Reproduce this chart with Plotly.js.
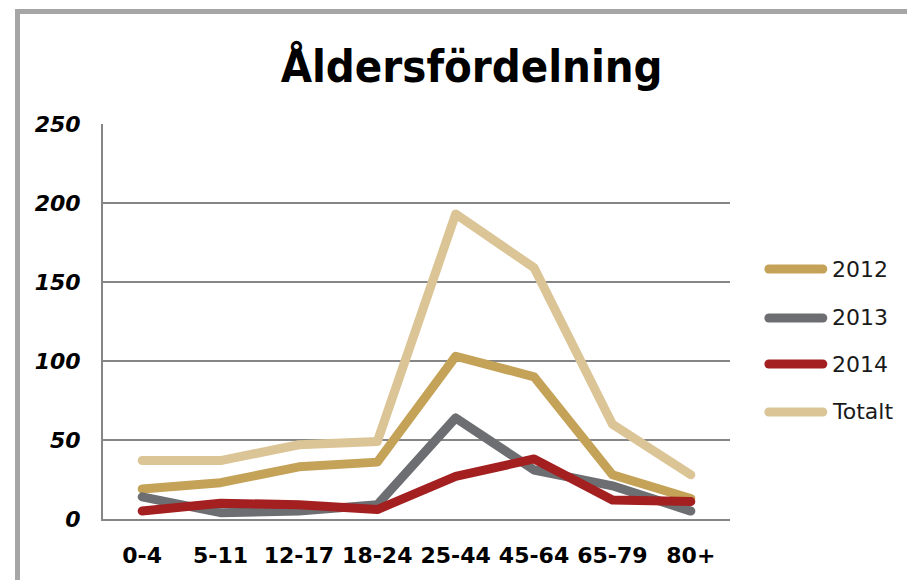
<!DOCTYPE html>
<html>
<head>
<meta charset="utf-8">
<script src="https://cdn.plot.ly/plotly-3.0.1.min.js"></script>
<style>
  html, body { margin: 0; padding: 0; background: #ffffff; }
  #wrap { position: relative; width: 907px; height: 580px; overflow: hidden; }
  #frame { position: absolute; left: 15px; top: 9px; width: 1000px; height: 1000px;
           border-top: 5px solid #a6a6a6; border-left: 5px solid #a6a6a6; }
  #chart { position: absolute; left: 0; top: 0; width: 907px; height: 580px; }
  .scatterlayer .js-line { stroke-linecap: round !important; stroke-linejoin: round !important; }
  .shapelayer path { stroke-linecap: round !important; }
</style>
</head>
<body>
<div id="wrap">
  <div id="frame"></div>
  <div id="chart"></div>
</div>
<script>
const categories = ["0-4", "5-11", "12-17", "18-24", "25-44", "45-64", "65-79", "80+"];
const seriesNames = ["2012", "2013", "2014", "Totalt"];
const values2012 = [19, 23, 33, 36, 103, 90, 28, 13];
const values2013 = [14, 4, 5, 9, 64, 31, 21, 5];
const values2014 = [5, 10, 9, 6, 27, 38, 12, 11];
const valuesTotalt = [37, 37, 47, 49, 193, 159, 60, 28];
const yTicks = [0, 50, 100, 150, 200, 250];

const seriesValues = [values2012, values2013, values2014, valuesTotalt];
const colors = ["#c4a257", "#6d6e71", "#a31f20", "#dbc597"];

const traces = seriesNames.map((name, i) => ({
  type: "scatter",
  mode: "lines",
  name: name,
  x: categories,
  y: seriesValues[i],
  line: { color: colors[i], width: 9 },
  hoverinfo: "x+y+name"
}));

// custom legend (long line samples like the original)
const legendY = [0.6329, 0.5089, 0.3924, 0.2709];
const shapes = seriesNames.map((name, i) => ({
  type: "line", xref: "paper", yref: "paper",
  x0: 1.062, x1: 1.148, y0: legendY[i], y1: legendY[i],
  line: { color: colors[i], width: 9 }
}));
const annotations = seriesNames.map((name, i) => ({
  xref: "paper", yref: "paper", x: 1.1595, y: legendY[i],
  xanchor: "left", yanchor: "middle", showarrow: false,
  text: name,
  font: { family: "DejaVu Sans, sans-serif", size: 22, color: "#1a1a1a" }
}));

const layout = {
  width: 907, height: 580,
  paper_bgcolor: "rgba(0,0,0,0)",
  plot_bgcolor: "rgba(0,0,0,0)",
  margin: { l: 103, r: 177, t: 124, b: 61, pad: 0 },
  showlegend: false,
  title: {
    text: "Åldersfördelning",
    x: 0.52, xref: "container", xanchor: "center",
    y: 0.886, yref: "container", yanchor: "middle",
    font: { family: "DejaVu Sans Condensed, DejaVu Sans, sans-serif", size: 45, weight: "bold", color: "#000000" }
  },
  xaxis: {
    type: "category",
    range: [-0.5, 7.5],
    showgrid: false,
    showline: true, linecolor: "#868686", linewidth: 2,
    ticks: "", ticklabelstandoff: 16,
    tickfont: { family: "DejaVu Sans, sans-serif", size: 22, weight: "bold", color: "#000000" },
    zeroline: false, fixedrange: true
  },
  yaxis: {
    range: [0, 250],
    tickvals: yTicks,
    ticktext: yTicks.map(String),
    showgrid: true, gridcolor: "#868686", gridwidth: 2,
    showline: true, linecolor: "#868686", linewidth: 2,
    zeroline: false,
    ticks: "", ticklabelstandoff: 16,
    tickfont: { family: "DejaVu Sans, sans-serif", size: 22, weight: "bold", style: "italic", color: "#000000" },
    fixedrange: true
  },
  shapes: shapes,
  annotations: annotations
};

Plotly.newPlot("chart", traces, layout, { displayModeBar: false, staticPlot: false });
</script>
</body>
</html>
